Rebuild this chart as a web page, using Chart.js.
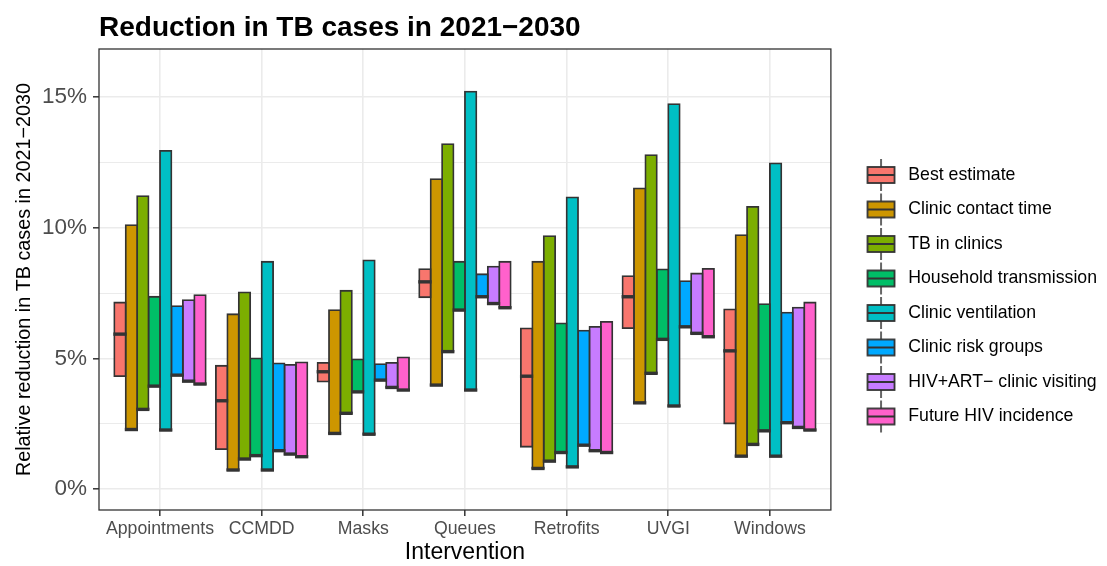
<!DOCTYPE html>
<html>
<head>
<meta charset="utf-8">
<script src="https://cdn.jsdelivr.net/npm/chart.js@4"></script>
<style>
html, body { margin: 0; padding: 0; background: #ffffff; }
canvas { display: block; }
</style>
</head>
<body>
<canvas id="chart" width="1107" height="566"></canvas>
<script>
// ---- data (percent reduction in TB cases, 2021-2030) ----
const categories = ['Appointments', 'CCMDD', 'Masks', 'Queues', 'Retrofits', 'UVGI', 'Windows'];
const seriesNames = ['Best estimate', 'Clinic contact time', 'TB in clinics', 'Household transmission',
  'Clinic ventilation', 'Clinic risk groups', 'HIV+ART\u2212 clinic visiting', 'Future HIV incidence'];
const seriesColors = ['#F8766D', '#CD9600', '#7CAE00', '#00BE67', '#00BFC4', '#00A9FF', '#C77CFF', '#FF61CC'];
const yTickValues = [0, 5, 10, 15];

const bestLow  = [4.32, 1.53, 4.11, 7.34, 1.62, 6.16, 2.51];
const bestMid  = [5.93, 3.38, 4.49, 7.93, 4.32, 7.36, 5.29];
const bestHigh = [7.14, 4.72, 4.83, 8.42, 6.15, 8.15, 6.88];
const contactLow  = [2.28, 0.73, 2.13, 3.98, 0.79, 3.30, 1.26];
const contactHigh = [10.10, 6.69, 6.85, 11.86, 8.70, 11.51, 9.72];
const tbClinicLow  = [3.05, 1.15, 2.90, 5.26, 1.07, 4.43, 1.71];
const tbClinicHigh = [11.21, 7.53, 7.59, 13.20, 9.68, 12.78, 10.80];
const householdLow  = [3.94, 1.28, 3.72, 6.85, 1.40, 5.73, 2.23];
const householdHigh = [7.36, 5.00, 4.96, 8.70, 6.34, 8.41, 7.08];
const ventLow  = [2.26, 0.73, 2.10, 3.79, 0.85, 3.18, 1.26];
const ventHigh = [12.94, 8.70, 8.75, 15.21, 11.16, 14.73, 12.46];
const riskLow  = [4.36, 1.47, 4.17, 7.36, 1.68, 6.21, 2.54];
const riskHigh = [7.00, 4.81, 4.78, 8.22, 6.06, 7.96, 6.75];
const hivVisitLow  = [4.13, 1.34, 3.89, 7.10, 1.47, 5.96, 2.36];
const hivVisitHigh = [7.23, 4.75, 4.83, 8.51, 6.21, 8.25, 6.94];
const hivIncLow  = [4.02, 1.24, 3.79, 6.94, 1.40, 5.83, 2.26];
const hivIncHigh = [7.42, 4.85, 5.04, 8.70, 6.40, 8.43, 7.14];

const lows  = [bestLow, contactLow, tbClinicLow, householdLow, ventLow, riskLow, hivVisitLow, hivIncLow];
const highs = [bestHigh, contactHigh, tbClinicHigh, householdHigh, ventHigh, riskHigh, hivVisitHigh, hivIncHigh];
// middle line: best estimate has its own; sensitivity runs sit on their lower end
const mids  = [bestMid, contactLow, tbClinicLow, householdLow, ventLow, riskLow, hivVisitLow, hivIncLow];

const FONT = "'Liberation Sans', Arial, Helvetica, sans-serif";
const DARK = '#333333';

// ---- legend keys drawn like ggplot boxplot keys ----
function makeKey(color) {
  const c = document.createElement('canvas');
  c.width = 30; c.height = 34;
  const g = c.getContext('2d');
  g.strokeStyle = DARK;
  g.lineWidth = 1.5;
  g.beginPath(); g.moveTo(15, 1); g.lineTo(15, 33); g.stroke();
  g.fillStyle = color;
  g.fillRect(1.5, 9, 27, 16);
  g.lineWidth = 1.8;
  g.strokeRect(1.5, 9, 27, 16);
  g.lineWidth = 2;
  g.beginPath(); g.moveTo(1.5, 17); g.lineTo(28.5, 17); g.stroke();
  return c;
}
const legendKeys = seriesColors.map(makeKey);

// ---- medians + panel border ----
const crossbarPlugin = {
  id: 'crossbar',
  afterDatasetsDraw(chart) {
    const ctx = chart.ctx;
    const yScale = chart.scales.y;
    ctx.save();
    ctx.strokeStyle = DARK;
    ctx.lineCap = 'butt';
    ctx.lineWidth = 3.4;
    chart.data.datasets.forEach((ds, i) => {
      const meta = chart.getDatasetMeta(i);
      meta.data.forEach((bar, j) => {
        const py = yScale.getPixelForValue(mids[i][j]);
        ctx.beginPath();
        ctx.moveTo(bar.x - bar.width / 2 - 0.9, py);
        ctx.lineTo(bar.x + bar.width / 2 + 0.9, py);
        ctx.stroke();
      });
    });
    const a = chart.chartArea;
    ctx.lineWidth = 1.3;
    ctx.strokeStyle = DARK;
    ctx.strokeRect(a.left, a.top, a.right - a.left, a.bottom - a.top);
    ctx.restore();
  }
};

const datasets = seriesNames.map((name, i) => ({
  label: name,
  data: categories.map((c, j) => ({ x: j + 1, y: [lows[i][j], highs[i][j]] })),
  backgroundColor: seriesColors[i],
  borderColor: DARK,
  borderWidth: 1.8,
  borderSkipped: false,
  inflateAmount: 0.9,
  categoryPercentage: 0.9,
  barPercentage: 1.0
}));

new Chart(document.getElementById('chart'), {
  type: 'bar',
  data: { datasets },
  plugins: [crossbarPlugin],
  options: {
    responsive: false,
    animation: false,
    events: [],
    layout: { padding: { left: 0, right: 0, top: 0, bottom: 0 } },
    scales: {
      x: {
        type: 'linear',
        min: 0.4,
        max: 7.6,
        offset: false,
        border: { display: false },
        grid: { offset: false, color: '#EBEBEB', lineWidth: 1.6, drawTicks: true, tickLength: 6, tickColor: DARK, tickWidth: 1.5 },
        ticks: {
          stepSize: 1,
          includeBounds: false,
          autoSkip: false,
          maxRotation: 0,
          minRotation: 0,
          padding: 2,
          color: '#4D4D4D',
          font: { family: FONT, size: 17.7 },
          callback: (v) => categories[v - 1] || ''
        },
        title: {
          display: true,
          text: 'Intervention',
          color: '#000000',
          font: { family: FONT, size: 23 },
          padding: { top: 0, bottom: 0 }
        },
        afterFit: (s) => { s.height = 56; }
      },
      y: {
        type: 'linear',
        min: -0.8,
        max: 16.84,
        border: { display: false },
        grid: {
          color: '#EBEBEB',
          lineWidth: (c) => (c.tick && Math.abs(c.tick.value % 5) < 1e-9 ? 1.6 : 1.1),
          drawTicks: true,
          tickLength: 6,
          tickWidth: 1.5,
          tickColor: (c) => (c.tick && yTickValues.includes(c.tick.value) ? DARK : 'rgba(0,0,0,0)')
        },
        ticks: {
          stepSize: 2.5,
          includeBounds: false,
          autoSkip: false,
          padding: 6,
          color: '#4D4D4D',
          font: { family: FONT, size: 22.5 },
          callback: (v) => (yTickValues.includes(v) ? v + '%' : '')
        },
        title: {
          display: true,
          text: 'Relative reduction in TB cases in 2021\u22122030',
          color: '#000000',
          font: { family: FONT, size: 19.8 },
          padding: { top: 12.5, bottom: 0 }
        },
        afterFit: (s) => { s.width = 99; }
      },
      spacer: {
        type: 'linear',
        position: 'right',
        display: true,
        grid: { display: false, drawTicks: false },
        border: { display: false },
        ticks: { display: false },
        afterFit: (s) => { s.width = 15; }
      }
    },
    plugins: {
      tooltip: { enabled: false },
      title: {
        display: true,
        text: 'Reduction in TB cases in 2021\u22122030',
        align: 'start',
        fullSize: false,
        color: '#000000',
        font: { family: FONT, size: 28, weight: 'bold' },
        padding: { top: 11.5, bottom: 3.9 }
      },
      legend: {
        display: true,
        position: 'right',
        align: 'center',
        maxWidth: 320,
        title: { display: true, text: ' ', font: { size: 10 }, padding: { top: 0, bottom: 13.5 } },
        labels: {
          usePointStyle: true,
          pointStyleWidth: 36.7,
          padding: 16.8,
          color: '#000000',
          font: { family: FONT, size: 17.7 },
          generateLabels: (chart) => {
            const base = Chart.defaults.plugins.legend.labels.generateLabels(chart);
            return base.map((item, i) => Object.assign(item, { pointStyle: legendKeys[i] }));
          }
        }
      }
    }
  }
});
</script>
</body>
</html>
